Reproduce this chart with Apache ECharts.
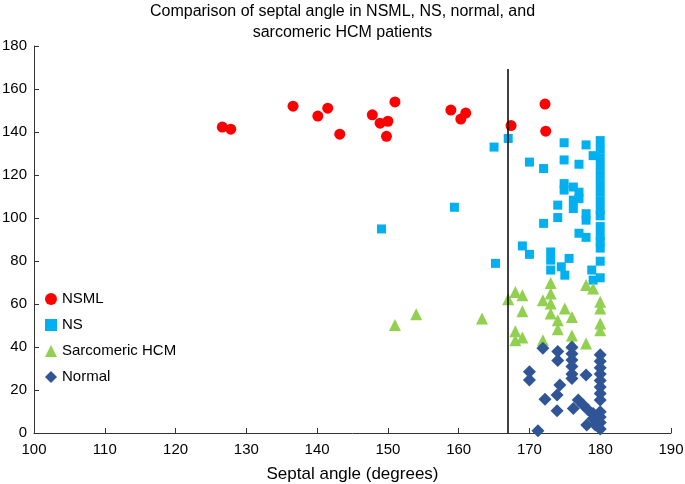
<!DOCTYPE html>
<html><head><meta charset="utf-8">
<script src="https://cdn.jsdelivr.net/npm/echarts@6/dist/echarts.min.js"></script>
<style>html,body{margin:0;padding:0;background:#fff}#c{width:685px;height:484px}</style>
</head><body><div id="c"></div>
<script>
const titleText = "Comparison of septal angle in NSML, NS, normal, and\nsarcomeric HCM patients";
const xAxisName = "Septal angle (degrees)";
const seriesNames = ["NSML", "NS", "Sarcomeric HCM", "Normal"];
const cutoffX = 166.9;
const cutoffTop = 169.3;

const nsml = [
  [126.6,142.3],[127.8,141.3],[136.6,152],[140.1,147.4],[141.5,151.1],[143.2,139],
  [147.8,148],[148.9,144.1],[150.0,145],[149.8,138],[151.0,154],[158.9,150.2],
  [160.3,146],[161.0,148.8],[167.4,143],[172.2,153],[172.3,140.4]
];
const ns = [
  [149.1,94.9],[159.4,105],[165.0,133],[165.2,78.9],[167.0,137],
  [169.0,87],[170.0,83.1],[170.0,126],[172.0,123],[172.0,97.5],
  [173.0,84.2],[173.0,80.4],[173.0,75.8],[174.0,106],[174.0,100.2],
  [174.9,135],[174.9,127],[174.9,116],[174.9,113],[176.2,114.4],[176.2,108.3],[176.2,104.4],
  [175.6,81.2],[174.5,77.3],[175.0,73.4],
  [177.0,125],[177.0,112],[177.0,109],[177.0,92.9],
  [178.0,134],[178.0,102],[178.0,99],[178.0,91],
  [179.0,129],[178.8,75.8],[179.0,71.1],
  [180,136],[180,132],[180,128],[180,124],[180,120],[180,116],[180,112],[180,108],[180,104],[180,101],
  [180,96],[180,92],[180,89],[180,86],[180,79.9],[180,72.2]
];
const hcm = [
  [151.0,50.2],[154.0,55.2],[163.3,53.2],
  [167.0,62.2],[168.0,65.6],[169.0,64.1],[169.0,56.6],[168.0,47.3],[168.0,43.1],[169.0,44.4],
  [171.9,61.8],[173.0,69.8],[173.0,64.9],[173.0,60.2],[173.0,55.6],[171.9,43.1],
  [174.0,52.4],[174.0,48.2],[175.0,57.9],[176.0,54],[176.0,45.4],[176.0,41.6],
  [178.0,68.8],[179.0,67.2],[178.0,41.6],
  [180,61],[180,57.9],[180,50.9],[180,47.8]
];
const normal = [
  [171.2,1],[170.0,28.5],[170.0,24.7],[171.9,39.4],[172.2,15.7],
  [174.0,37.9],[174.0,33.7],[174.3,22.3],[173.9,17.7],[173.9,10.3],
  [176.0,39.9],[176.0,36.9],[176.0,33.9],[176.0,30.9],[176.0,27.4],[176.0,25.4],
  [178.0,27],[176.9,15.3],[176.2,11.4],[177.6,13],[178.3,10.7],[179.0,9.1],[179.0,6.8],
  [178.1,3.7],[179.3,3.7],
  [180,36.4],[180,33.4],[180,30.4],[180,27.4],[180,24.4],[180,21.4],[180,18.4],[180,15.4],
  [180,9.9],[180,7.4],[180,4.9],[180,1.9]
];

const colors = ["#ff0000", "#00b0f0", "#92d050", "#2f5597"];
const symbols = ["circle", "rect", "triangle", "diamond"];
const sizes = [11, 9, 12, 13];
const datasets = [nsml, ns, hcm, normal];

const font = "'Liberation Sans', Arial, sans-serif";
const chart = echarts.init(document.getElementById('c'), null, {renderer: 'canvas'});

const series = datasets.map((d, i) => ({
  name: seriesNames[i],
  type: 'scatter',
  data: d,
  symbol: symbols[i],
  symbolSize: sizes[i],
  itemStyle: {color: colors[i], opacity: 1},
  z: 2 + i
}));
series[0].markLine = {
  silent: true, symbol: 'none', animation: false,
  lineStyle: {color: '#000', width: 1.5, type: 'solid'},
  label: {show: false},
  data: [[{coord: [cutoffX, 0]}, {coord: [cutoffX, cutoffTop]}]]
};

chart.setOption({
  animation: false,
  backgroundColor: '#fff',
  title: {
    text: titleText, left: 'center', top: -4,
    textStyle: {fontFamily: font, fontSize: 16, fontWeight: 'normal', color: '#000', lineHeight: 21}
  },
  legend: {
    orient: 'vertical', left: 45, top: 291, padding: 0,
    itemWidth: 12, itemHeight: 12, itemGap: 10,
    data: seriesNames.map((n, i) => ({name: n, icon: symbols[i]})),
    textStyle: {fontFamily: font, fontSize: 15, color: '#000', lineHeight: 16}
  },
  grid: {left: 34, right: 14, top: 46, bottom: 51, containLabel: false, outerBoundsMode: 'none'},
  xAxis: {
    type: 'value', min: 100, max: 190, interval: 10,
    name: xAxisName, nameLocation: 'middle', nameGap: 33,
    nameTextStyle: {fontFamily: font, fontSize: 17, color: '#000'},
    axisLine: {lineStyle: {color: '#333', width: 1}},
    axisTick: {inside: true, length: 5, lineStyle: {color: '#333'}},
    axisLabel: {fontFamily: font, fontSize: 15, color: '#000', margin: 9},
    splitLine: {show: false}
  },
  yAxis: {
    type: 'value', min: 0, max: 180, interval: 20,
    axisLine: {show: true, lineStyle: {color: '#333', width: 1}},
    axisTick: {show: true, inside: true, length: 5, lineStyle: {color: '#333'}},
    axisLabel: {fontFamily: font, fontSize: 15, color: '#000', margin: 7},
    splitLine: {show: false}
  },
  series: series
});
</script></body></html>
